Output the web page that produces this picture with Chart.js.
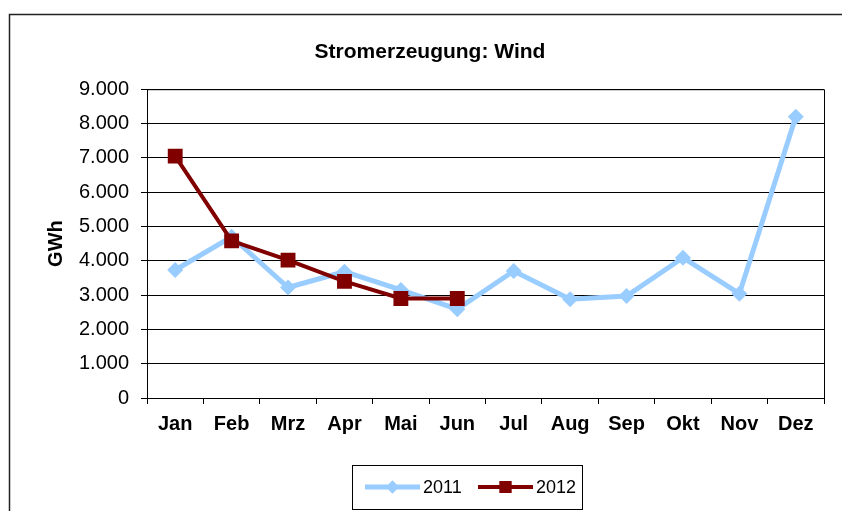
<!DOCTYPE html>
<html>
<head>
<meta charset="utf-8">
<script src="https://cdn.jsdelivr.net/npm/chart.js@4"></script>
<style>
  html, body { margin: 0; padding: 0; background: #fff; }
  #wrap { width: 842px; height: 511px; }
</style>
</head>
<body>
<div id="wrap"><canvas id="windChart"></canvas></div>
<script>
// Stromerzeugung Wind, GWh pro Monat
const months = ['Jan', 'Feb', 'Mrz', 'Apr', 'Mai', 'Jun', 'Jul', 'Aug', 'Sep', 'Okt', 'Nov', 'Dez'];
const wind2011 = [3730, 4700, 3220, 3680, 3150, 2590, 3700, 2880, 2970, 4090, 3040, 8200];
const wind2012 = [7050, 4580, 4020, 3400, 2900, 2900, null, null, null, null, null, null];
const yTicks = [0, 1000, 2000, 3000, 4000, 5000, 6000, 7000, 8000, 9000];

const FONT = '"Liberation Sans", Arial, sans-serif';

function fmt(v) {
    return String(v).replace(/\B(?=(\d{3})+(?!\d))/g, '.');
}

// Rahmen um Diagramm und Zeichnungsfläche, dazu die Legende
const framePlugin = {
    id: 'frame',
    beforeDraw(chart) {
        const c = chart.ctx;
        c.save();
        c.fillStyle = '#fff';
        c.fillRect(0, 0, chart.width, chart.height);
        c.strokeStyle = '#222';
        c.lineWidth = 1.5;
        c.strokeRect(9.5, 14.5, 1000, 1000);
        c.restore();
    },
    afterDraw(chart) {
        const c = chart.ctx;
        const a = chart.chartArea;
        c.save();
        c.strokeStyle = '#000';
        c.lineWidth = 1;
        c.beginPath();
        c.moveTo(a.left, a.top + 0.5);
        c.lineTo(a.right + 0.5, a.top + 0.5);
        c.lineTo(a.right + 0.5, a.bottom);
        c.stroke();

        // Legende
        const bx = 352.5, by = 465.5, bw = 230, bh = 44;
        c.strokeStyle = '#000';
        c.strokeRect(bx, by, bw, bh);
        const cy = 487;
        let x = 365;
        chart.data.datasets.forEach(ds => {
            c.strokeStyle = ds.borderColor;
            c.lineWidth = ds.borderWidth;
            c.beginPath();
            c.moveTo(x, cy);
            c.lineTo(x + 55, cy);
            c.stroke();
            c.fillStyle = ds.borderColor;
            c.beginPath();
            Chart.helpers.drawPoint(c, {
                pointStyle: ds.pointStyle,
                radius: ds.pointRadius * 0.8,
                borderWidth: 0
            }, x + 27.5, cy);
            c.fill();
            c.fillStyle = '#000';
            c.font = '18px ' + FONT;
            c.textBaseline = 'middle';
            c.textAlign = 'left';
            c.fillText(ds.label, x + 58, cy + 1);
            x += 113;
        });
        c.restore();
    }
};

const ctx = document.getElementById('windChart').getContext('2d');
const windChart = new Chart(ctx, {
    type: 'line',
    data: {
        labels: months,
        datasets: [
            {
                label: '2011',
                data: wind2011,
                order: 1,
                borderColor: '#99CCFF',
                backgroundColor: '#99CCFF',
                borderWidth: 5,
                pointStyle: 'rectRot',
                pointRadius: 8,
                pointBorderWidth: 0,
                tension: 0
            },
            {
                label: '2012',
                data: wind2012,
                order: 0,
                borderColor: '#800000',
                backgroundColor: '#800000',
                borderWidth: 4,
                pointStyle: 'rect',
                pointRadius: 10.5,
                pointBorderWidth: 0,
                tension: 0
            }
        ]
    },
    options: {
        responsive: true,
        maintainAspectRatio: false,
        animation: false,
        layout: {
            padding: { left: 36, right: 18, top: 30, bottom: 0 }
        },
        plugins: {
            legend: { display: false },
            tooltip: { enabled: false },
            title: {
                display: true,
                text: 'Stromerzeugung: Wind',
                color: '#000',
                font: { family: FONT, size: 21, weight: 'bold' },
                padding: { top: 10, bottom: 24 }
            }
        },
        scales: {
            x: {
                offset: true,
                grid: {
                    offset: true,
                    drawOnChartArea: false,
                    tickLength: 6,
                    tickColor: '#000'
                },
                border: { color: '#000', width: 1 },
                ticks: {
                    color: '#000',
                    padding: 8,
                    maxRotation: 0,
                    font: { family: FONT, size: 20, weight: 'bold' }
                },
                afterFit(scale) { scale.height = 113; }
            },
            y: {
                min: 0,
                max: 9000,
                afterBuildTicks(scale) { scale.ticks = yTicks.map(v => ({ value: v })); },
                grid: {
                    color: '#000',
                    tickColor: '#000',
                    tickLength: 6
                },
                border: { color: '#000', width: 1 },
                ticks: {
                    color: '#000',
                    padding: 12,
                    font: { family: FONT, size: 20 },
                    callback: v => fmt(v)
                },
                title: {
                    display: true,
                    text: 'GWh',
                    color: '#000',
                    font: { family: FONT, size: 20, weight: 'bold' },
                    padding: { top: 8, bottom: 0 }
                },
                afterFit(scale) { scale.width = 111; }
            }
        }
    },
    plugins: [framePlugin]
});
</script>
</body>
</html>
